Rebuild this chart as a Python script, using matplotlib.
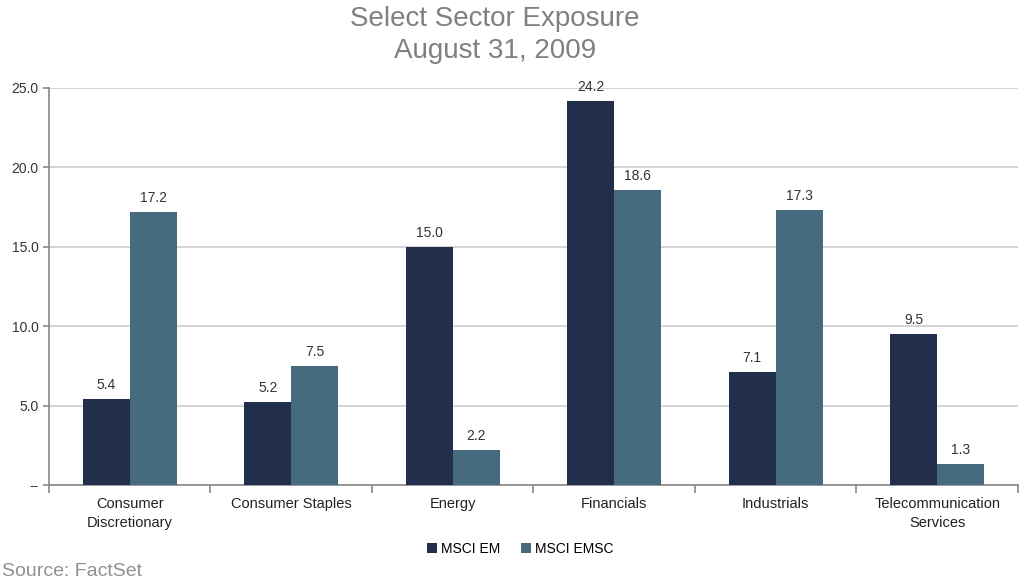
import matplotlib.pyplot as plt
import numpy as np

sectors = ["Consumer\nDiscretionary", "Consumer Staples", "Energy",
           "Financials", "Industrials", "Telecommunication\nServices"]
msci_em = [5.4, 5.2, 15.0, 24.2, 7.1, 9.5]
msci_emsc = [17.2, 7.5, 2.2, 18.6, 17.3, 1.3]
yticks = [0, 5, 10, 15, 20, 25]
ytick_labels = ["--", "5.0", "10.0", "15.0", "20.0", "25.0"]

plt.rcParams['font.family'] = ['Liberation Sans', 'DejaVu Sans']

fig = plt.figure(figsize=(10.2, 5.82), dpi=100)
ax = fig.add_axes([0.048, 0.1667, 0.95, 0.6821])

x = np.arange(len(sectors))
w = 0.29
b1 = ax.bar(x - w / 2, msci_em, w, color="#222f4c", label="MSCI EM", zorder=3)
b2 = ax.bar(x + w / 2, msci_emsc, w, color="#466a7e", label="MSCI EMSC", zorder=3)

for bars, vals in ((b1, msci_em), (b2, msci_emsc)):
    for r, v in zip(bars, vals):
        ax.annotate(f"{v:.1f}", (r.get_x() + r.get_width() / 2, v),
                    xytext=(0, 5), textcoords="offset points",
                    ha="center", va="bottom", fontsize=10, color="#333333")

ax.set_xlim(-0.5, len(sectors) - 0.5)
ax.set_ylim(0, 25)
ax.set_yticks(yticks)
ax.set_yticklabels(ytick_labels, fontsize=10, color="#333333")
ax.yaxis.grid(True, color="#cccccc", linewidth=1.2, zorder=0)

# category labels sit between boundary ticks
ax.set_xticks(np.arange(len(sectors) + 1) - 0.5)
ax.set_xticklabels([])
ax.set_xticks(x, minor=True)
ax.set_xticklabels(sectors, minor=True, fontsize=10.5, color="#222222",
                   linespacing=1.45)
ax.tick_params(axis="x", which="minor", length=0, pad=9)
ax.tick_params(axis="x", which="major", length=6, color="#888888", width=1.2)
ax.tick_params(axis="y", length=4, color="#888888", width=1.2)

for s in ("top", "right"):
    ax.spines[s].set_visible(False)
for s in ("left", "bottom"):
    ax.spines[s].set_color("#888888")
    ax.spines[s].set_linewidth(1.2)

fig.text(0.485, 0.968, "Select Sector Exposure", ha="center", va="center",
         fontsize=20, color="#808080")
fig.text(0.485, 0.913, "August 31, 2009", ha="center", va="center",
         fontsize=20, color="#808080")

fig.legend(handles=[b1, b2], loc="center", bbox_to_anchor=(0.51, 0.057),
           ncol=2, frameon=False, fontsize=10, handlelength=0.7,
           handleheight=0.7, handletextpad=0.3, columnspacing=1.5)

fig.text(0.002, 0.018, "Source: FactSet", ha="left", va="center",
         fontsize=14, color="#909090")

fig.savefig("out.png", dpi=100)
